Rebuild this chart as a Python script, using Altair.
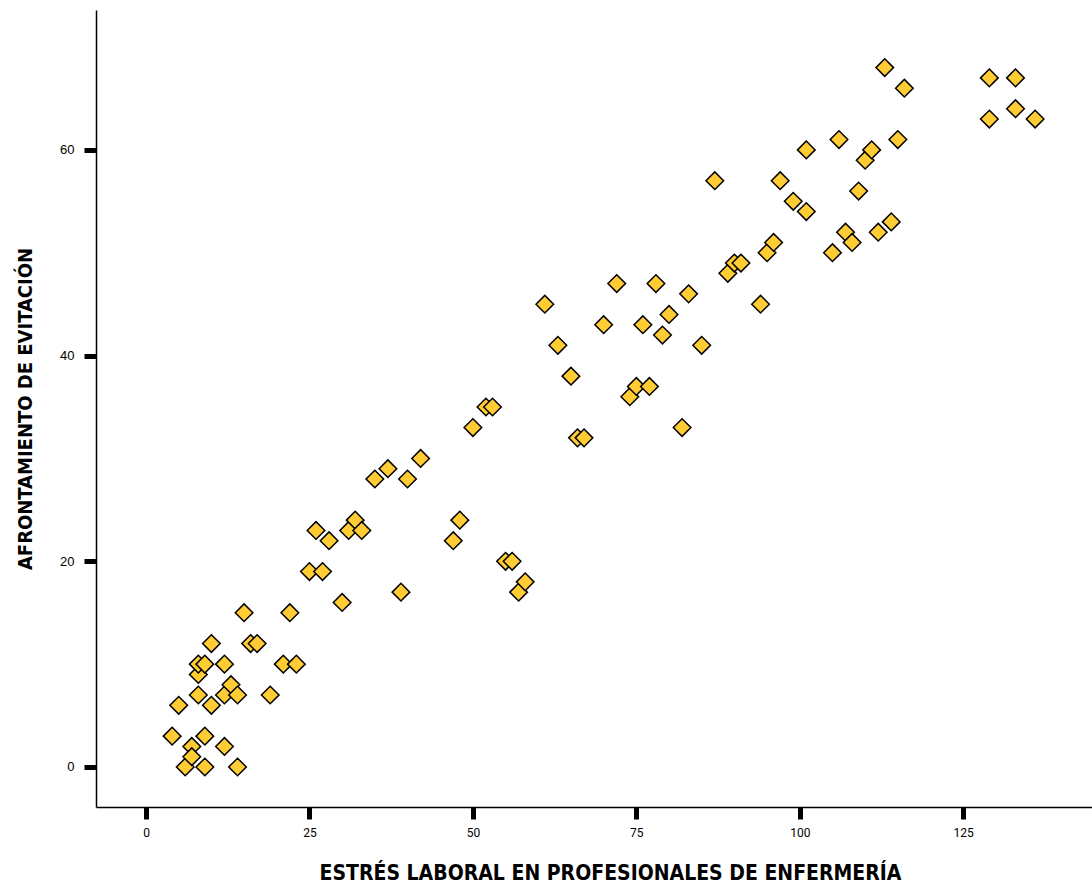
import altair as alt
import pandas as pd

estres = [4, 5, 6, 7, 7, 8, 8, 8, 9, 9, 9, 10, 10, 12, 12, 12, 13, 14, 14, 15,
          16, 17, 19, 21, 22, 23, 25, 26, 27, 28, 30, 31, 32, 33, 35, 37, 39, 40,
          42, 47, 48, 50, 52, 53, 55, 56, 57, 58, 61, 63, 65, 66, 67, 70, 72, 74,
          75, 76, 77, 78, 79, 80, 82, 83, 85, 87, 89, 90, 91, 94, 95, 96, 97, 99,
          101, 101, 105, 106, 107, 108, 109, 110, 111, 112, 113, 114, 115, 116,
          129, 129, 133, 133, 136]
evitacion = [3, 6, 0, 2, 1, 7, 9, 10, 10, 3, 0, 6, 12, 10, 7, 2, 8, 7, 0, 15,
             12, 12, 7, 10, 15, 10, 19, 23, 19, 22, 16, 23, 24, 23, 28, 29, 17, 28,
             30, 22, 24, 33, 35, 35, 20, 20, 17, 18, 45, 41, 38, 32, 32, 43, 47, 36,
             37, 43, 37, 47, 42, 44, 33, 46, 41, 57, 48, 49, 49, 45, 50, 51, 57, 55,
             60, 54, 50, 61, 52, 51, 56, 59, 60, 52, 68, 53, 61, 66,
             67, 63, 67, 64, 63]

df = pd.DataFrame({"x": estres, "y": evitacion})

TITLE_FONT = "'Liberation Sans Narrow', 'DejaVu Sans Condensed', 'Roboto Condensed', Roboto, sans-serif"

chart = alt.Chart(df).mark_point(
    shape="diamond", filled=True, fill="#FFCC33", stroke="#000000",
    strokeWidth=1.5, size=310, opacity=1
).encode(
    x=alt.X("x:Q", scale=alt.Scale(domain=[-7.65, 144.7], nice=False, zero=False),
            axis=alt.Axis(title="ESTRÉS LABORAL EN PROFESIONALES DE ENFERMERÍA",
                          values=[0, 25, 50, 75, 100, 125], grid=False,
                          tickSize=12, tickWidth=5, tickColor="#000000",
                          domainColor="#000000", domainWidth=1.5,
                          labelFont="Roboto, sans-serif", labelFontSize=12,
                          labelColor="#000000", labelPadding=8,
                          titleFont=TITLE_FONT, titleFontSize=21,
                          titleFontWeight="bold", titleColor="#000000",
                          titleX=514, titleAlign="center",
                          titlePadding=24)),
    y=alt.Y("y:Q", scale=alt.Scale(domain=[-3.89, 73.6], nice=False, zero=False),
            axis=alt.Axis(title="AFRONTAMIENTO DE EVITACIÓN",
                          values=[0, 20, 40, 60], grid=False,
                          tickSize=12, tickWidth=5, tickColor="#000000",
                          domainColor="#000000", domainWidth=1.5,
                          labelFont="Liberation Sans, sans-serif", labelFontSize=13,
                          labelColor="#000000", labelPadding=10,
                          titleFont=TITLE_FONT, titleFontSize=20,
                          titleFontWeight="bold", titleColor="#000000",
                          titlePadding=24)),
).properties(
    width=996, height=797,
    autosize=alt.AutoSizeParams(type="none"),
    padding={"left": 96, "top": 10, "right": 0, "bottom": 79}
).configure_view(stroke=None)

chart.save("out.html", embed_options={"renderer": "svg", "actions": False})
